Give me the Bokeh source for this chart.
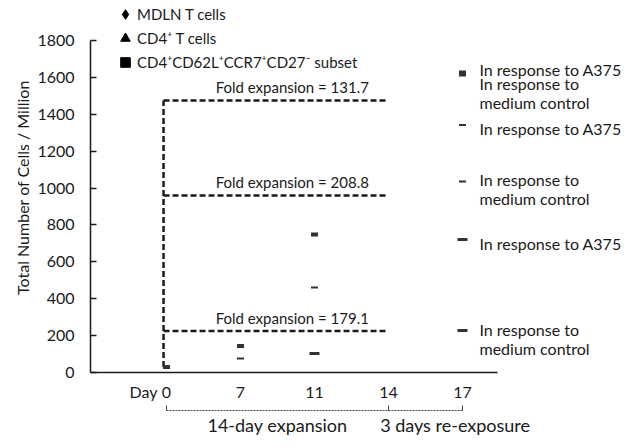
import math
from bokeh.plotting import figure
from bokeh.models import FixedTicker, Legend, LegendItem, ColumnDataSource, Range1d, LinearAxis, Title
from bokeh.embed import file_html
from bokeh.resources import INLINE
from bokeh.core.properties import value

FONT = "Lato"
INK = "#1a1a1a"

# ---------------- data ----------------
days = ["0", "7", "11", "14", "17"]
day_pos = [0, 1, 2, 3, 4]
day_word_pos = -0.31

# 14-day expansion (days 0, 7, 11)
mdln_x = [0, 1, 2]
mdln_cells = [30, 143, 748]
cd4_x = [1, 2]
cd4_cells = [76, 461]
subset_x = [2]
subset_cells = [103]

# day-14 totals (level of dashed lines) and fold expansion
day14_cells = [1475, 960, 225]
fold_text = ["131.7", "208.8", "179.1"]

# day-17 re-exposure
mdln_d17 = [1627, 1615]
cd4_d17 = [1342, 1036]
subset_d17 = [721, 228]
d17_labels = ["In response to A375", "In response to\nmedium control",
              "In response to A375", "In response to\nmedium control",
              "In response to A375", "In response to\nmedium control"]
d17_label_dy = [-3, 18, 4, 8, 4, 9]

phase_pos = [1.5, 3.9]
phase_labels = ["14-day expansion", "3 days re-exposure"]

y_ticks = list(range(0, 1801, 200))

# ---------------- figure ----------------
p = figure(width=629, height=448, x_range=Range1d(-1.027, 6.23), y_range=Range1d(0, 2006),
           output_backend="svg", toolbar_location=None,
           min_border_left=90, min_border_right=2, min_border_top=2, min_border_bottom=76)
p.outline_line_color = None
p.grid.visible = False
p.background_fill_color = "white"

# y axis
ya = p.yaxis[0]
ya.ticker = FixedTicker(ticks=y_ticks)
ya.bounds = (0, 1800)
ya.major_tick_in = 6
ya.major_tick_out = 0
ya.minor_tick_line_color = None
ya.axis_line_width = 1.5
ya.major_tick_line_width = 1.5
ya.axis_line_color = INK
ya.major_tick_line_color = INK
ya.major_label_text_font = FONT
ya.major_label_text_font_size = "16px"
ya.major_label_text_color = INK
ya.major_label_standoff = 16

p.add_layout(Title(text="Total Number of Cells / Million", align="center", offset=-10,
                   text_font=FONT, text_font_size="16px", text_font_style="normal",
                   text_color=INK, standoff=6), "left")

# x axis (days)
xa = p.xaxis[0]
xa.ticker = FixedTicker(ticks=[day_word_pos] + day_pos)
overrides = {pos: d for pos, d in zip(day_pos, days)}
overrides[day_word_pos] = "Day"
xa.major_label_overrides = overrides
xa.bounds = (-1.027, 4.47)
xa.major_tick_in = 0
xa.major_tick_out = 0
xa.minor_tick_line_color = None
xa.axis_line_width = 1.5
xa.axis_line_color = INK
xa.major_label_text_font = FONT
xa.major_label_text_font_size = "16px"
xa.major_label_text_color = INK
xa.major_label_standoff = 9

# spacer between day labels and brackets
sp = LinearAxis(ticker=FixedTicker(ticks=[day_pos[0]]), major_label_overrides={day_pos[0]: ""},
                axis_line_color=None, major_tick_line_color=None, minor_tick_line_color=None,
                major_tick_in=0, major_tick_out=7, major_label_standoff=0,
                major_label_text_font_size="1px")
p.add_layout(sp, "below")

# bracket axis (dashed brackets under the days)
ba = LinearAxis(ticker=FixedTicker(ticks=[day_pos[0], day_pos[3], day_pos[4]]),
                major_label_overrides={day_pos[0]: "", day_pos[3]: "", day_pos[4]: ""},
                bounds=(day_pos[0], day_pos[4]), major_tick_in=5, major_tick_out=0,
                minor_tick_line_color=None, axis_line_dash="2 1", axis_line_width=1,
                axis_line_color="#444444", major_tick_line_color="#444444",
                major_tick_line_width=1, major_label_standoff=0,
                major_label_text_font_size="1px")
p.add_layout(ba, "below")

# phase labels axis
pa = LinearAxis(ticker=FixedTicker(ticks=phase_pos),
                major_label_overrides={pos: t for pos, t in zip(phase_pos, phase_labels)},
                axis_line_color=None, major_tick_line_color=None, minor_tick_line_color=None,
                major_tick_in=0, major_tick_out=0,
                major_label_standoff=3, major_label_text_font=FONT,
                major_label_text_font_size="18px", major_label_text_color=INK)
p.add_layout(pa, "below")

# fold expansion dashed lines
n = len(day14_cells)
p.segment(x0=[day_pos[0] - 0.04] * n, y0=day14_cells, x1=[day_pos[3]] * n, y1=day14_cells,
          line_dash="6 3", line_width=2.5, line_color=INK)
p.segment(x0=[day_pos[0] - 0.04], y0=[mdln_cells[0]], x1=[day_pos[0] - 0.04], y1=[max(day14_cells)],
          line_dash="6 3", line_width=2.5, line_color=INK)
p.text(x=[1.7] * n, y=day14_cells, text=["Fold expansion = " + f for f in fold_text],
       y_offset=-4, text_align="center", text_baseline="bottom",
       text_font=value(FONT), text_font_size="15px", text_color=INK)

# data markers
mk = dict(marker="dash", line_color="#333333", fill_color="#333333")
p.scatter(x=mdln_x + [day_pos[4]] * 2, y=mdln_cells + mdln_d17, size=7, line_width=4, **mk)
p.scatter(x=cd4_x + [day_pos[4]] * 2, y=cd4_cells + cd4_d17, size=7, line_width=2, **mk)
p.scatter(x=subset_x + [day_pos[4]] * 2, y=subset_cells + subset_d17, size=10, line_width=3, **mk)

# day-17 labels
src = ColumnDataSource(dict(x=[day_pos[4]] * 6, y=mdln_d17 + cd4_d17 + subset_d17,
                            t=d17_labels, dy=d17_label_dy))
p.text(x="x", y="y", text="t", y_offset="dy", x_offset=17, source=src, text_align="left",
       text_baseline="middle", text_line_height=1.0, text_font=value(FONT),
       text_font_size="16px", text_color=INK)

# legend
nan = float("nan")
r1 = p.scatter(x=[nan], y=[nan], marker="diamond", size=12, color="black")
r2 = p.scatter(x=[nan], y=[nan], marker="triangle", size=12, color="black")
r3 = p.scatter(x=[nan], y=[nan], marker="square", size=12, color="black")
legend = Legend(items=[LegendItem(label="MDLN T cells", renderers=[r1]),
                       LegendItem(label="CD4\u207A T cells", renderers=[r2]),
                       LegendItem(label="CD4\u207ACD62L\u207ACCR7\u207ACD27\u207B subset", renderers=[r3])],
                location=(23, 298), glyph_width=24, glyph_height=24, label_height=24,
                spacing=0, padding=0, margin=0, label_standoff=0,
                background_fill_alpha=0, border_line_color=None,
                label_text_font=FONT, label_text_font_size="15px", label_text_color=INK)
p.add_layout(legend)

open("out.html", "w").write(file_html(p, INLINE))
